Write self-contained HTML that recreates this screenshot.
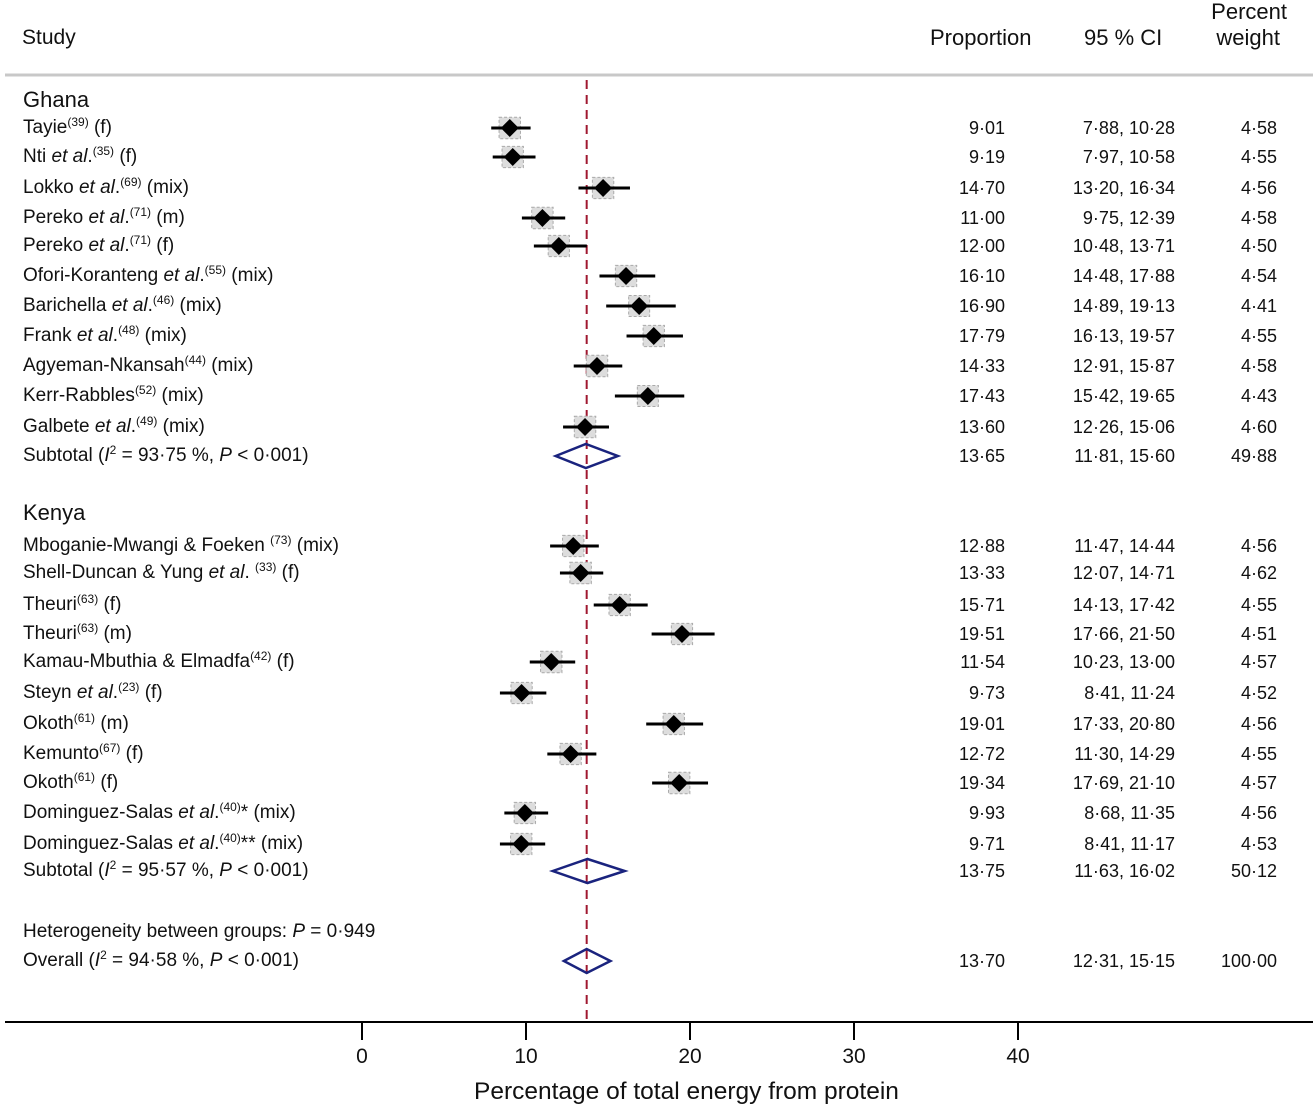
<!DOCTYPE html>
<html><head><meta charset="utf-8">
<style>
body{margin:0;background:#fff;width:1316px;height:1106px;overflow:hidden;position:relative;font-family:"Liberation Sans",sans-serif;color:#111}
.t{position:absolute;font-size:18px;line-height:20px;white-space:nowrap}
.lab{font-size:19px}
.r{text-align:right}
.h{font-size:21px}
.hh{font-size:22px}
sup{font-size:12px;line-height:0;vertical-align:7px}
svg{position:absolute;left:0;top:0}
</style></head><body>
<svg id="plot" width="1316" height="1106"></svg>
<div id="labels"></div>
<script>
const labels=["Tayie<sup>(39)</sup> (f)","Nti <i>et al</i>.<sup>(35)</sup> (f)","Lokko <i>et al</i>.<sup>(69)</sup> (mix)","Pereko <i>et al</i>.<sup>(71)</sup> (m)","Pereko <i>et al</i>.<sup>(71)</sup> (f)","Ofori-Koranteng <i>et al</i>.<sup>(55)</sup> (mix)","Barichella <i>et al</i>.<sup>(46)</sup> (mix)","Frank <i>et al</i>.<sup>(48)</sup> (mix)","Agyeman-Nkansah<sup>(44)</sup> (mix)","Kerr-Rabbles<sup>(52)</sup> (mix)","Galbete <i>et al</i>.<sup>(49)</sup> (mix)","Subtotal (<i>I</i><sup>2</sup> = 93·75 %, <i>P</i> &lt; 0·001)",
"Mboganie-Mwangi &amp; Foeken <sup>(73)</sup> (mix)","Shell-Duncan &amp; Yung <i>et al</i>. <sup>(33)</sup> (f)","Theuri<sup>(63)</sup> (f)","Theuri<sup>(63)</sup> (m)","Kamau-Mbuthia &amp; Elmadfa<sup>(42)</sup> (f)","Steyn <i>et al</i>.<sup>(23)</sup> (f)","Okoth<sup>(61)</sup> (m)","Kemunto<sup>(67)</sup> (f)","Okoth<sup>(61)</sup> (f)","Dominguez-Salas <i>et al</i>.<sup>(40)</sup>* (mix)","Dominguez-Salas <i>et al</i>.<sup>(40)</sup>** (mix)","Subtotal (<i>I</i><sup>2</sup> = 95·57 %, <i>P</i> &lt; 0·001)",
"Overall (<i>I</i><sup>2</sup> = 94·58 %, <i>P</i> &lt; 0·001)"];
const est=[9.01,9.19,14.70,11.00,12.00,16.10,16.90,17.79,14.33,17.43,13.60,13.65,12.88,13.33,15.71,19.51,11.54,9.73,19.01,12.72,19.34,9.93,9.71,13.75,13.70];
const lo=[7.88,7.97,13.20,9.75,10.48,14.48,14.89,16.13,12.91,15.42,12.26,11.81,11.47,12.07,14.13,17.66,10.23,8.41,17.33,11.30,17.69,8.68,8.41,11.63,12.31];
const hi=[10.28,10.58,16.34,12.39,13.71,17.88,19.13,19.57,15.87,19.65,15.06,15.60,14.44,14.71,17.42,21.50,13.00,11.24,20.80,14.29,21.10,11.35,11.17,16.02,15.15];
const wt=[4.58,4.55,4.56,4.58,4.50,4.54,4.41,4.55,4.58,4.43,4.60,49.88,4.56,4.62,4.55,4.51,4.57,4.52,4.56,4.55,4.57,4.56,4.53,50.12,100.00];
const kind=["s","s","s","s","s","s","s","s","s","s","s","d","s","s","s","s","s","s","s","s","s","s","s","d","d"];
const rowY=[128,157,188,218,246,276,306,336,366,396,427,456,546,573,605,634,662,693,724,754,783,813,844,871,961];
const ticks=[0,10,20,30,40];
const overall=13.70;
const X=v=>362+v*16.4;
const f=v=>v.toFixed(2).replace('.','·');
const svg=document.getElementById('plot'),L=document.getElementById('labels');
const NS='http://www.w3.org/2000/svg';
function el(t,a){const e=document.createElementNS(NS,t);for(const k in a)e.setAttribute(k,a[k]);svg.appendChild(e);return e;}
function txt(html,x,y,cls,name){const d=document.createElement('div');d.className='t '+(cls||'');d.innerHTML=html;


if(cls&&cls.includes('r')){d.style.right=(1316-x)+'px';}else d.style.left=x+'px';d.style.top=(y-10)+'px';L.appendChild(d);return d;}
txt('Study',22,38,'h','study-header');
txt('Proportion',930,38,'hh','proportion-header');
txt('95 % CI',1084,38,'hh','ci-header');
txt('Percent',1287,12,'hh r','weight-header-1');
txt('weight',1280,38,'hh r','weight-header-2');
const hl=el('line',{x1:5,x2:1313,y1:75,y2:75,stroke:'#c8c8c8','stroke-width':3});


txt('Ghana',23,100,'hh','group-ghana');
txt('Kenya',23,513,'hh','group-kenya');
txt('Heterogeneity between groups: <i>P</i> = 0·949',23,932,'lab','heterogeneity-text');
const dl=el('line',{x1:X(overall),x2:X(overall),y1:80,y2:1022,stroke:'#a01830','stroke-width':2,'stroke-dasharray':'9,6'});


for(let i=0;i<labels.length;i++){
 const y=rowY[i];
 txt(labels[i],23,y,'lab','study-label');
 txt(f(est[i]),1005,y,'r','proportion-value');
 txt(f(lo[i])+', '+f(hi[i]),1175,y,'r','ci-value');
 txt(f(wt[i]),1277,y,'r','weight-value');
 if(kind[i]==='s'){
  const s=Math.sqrt(wt[i])*10;
  const b=el('rect',{x:X(est[i])-s/2,y:y-s/2,width:s,height:s,fill:'#ddd',stroke:'#aaa','stroke-dasharray':'3,2'});
  
  
  const c=el('line',{x1:X(lo[i]),x2:X(hi[i]),y1:y,y2:y,stroke:'#000','stroke-width':3});
  
  
  const cx=X(est[i]);
  const m=el('polygon',{points:`${cx-9},${y} ${cx},${y-9} ${cx+9},${y} ${cx},${y+9}`,fill:'#000'});
  
  
 }else{
  const a=X(lo[i]),b2=X(hi[i]),cx=X(est[i]);
  const d=el('polygon',{points:`${a},${y} ${cx},${y-12} ${b2},${y} ${cx},${y+12}`,fill:'none',stroke:'#1a237e','stroke-width':2.5});
  
  
 }
}
const ax=el('line',{x1:5,x2:1313,y1:1022,y2:1022,stroke:'#000','stroke-width':2});


ticks.forEach(t=>{
 const tl=el('line',{x1:X(t),x2:X(t),y1:1022,y2:1040,stroke:'#000','stroke-width':2});
 
 
 const d=txt(String(t),X(t),1057,'h','x-tick-label');d.style.left=(X(t)-30)+'px';d.style.width='60px';d.style.textAlign='center';
});
const tt=txt('Percentage of total energy from protein',0,1092,'','x-axis-title');
tt.style.fontSize='24.5px';tt.style.left='474px';tt.style.lineHeight='26px';tt.style.top='1079px';
</script>
</body></html>
